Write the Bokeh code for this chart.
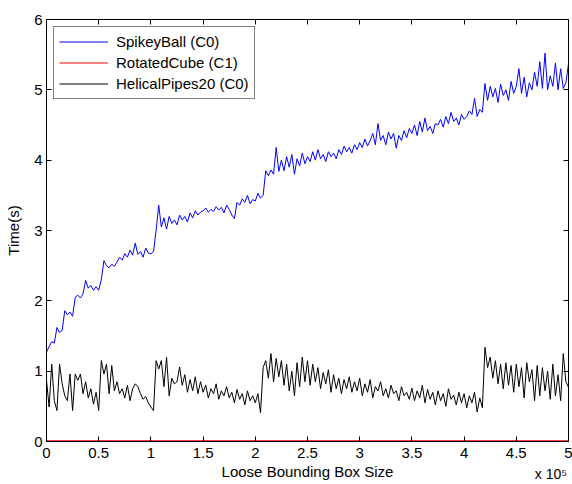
from bokeh.plotting import figure
from bokeh.models import Range1d, FixedTicker, LinearAxis, Legend
from bokeh.embed import file_html
from bokeh.resources import INLINE

FONT = "Liberation Sans"

# ---- data -------------------------------------------------------------
box_size = list(range(0, 500001, 2500))

spikey_ball = [
    1.27, 1.35, 1.42, 1.40, 1.62, 1.55, 1.58, 1.86, 1.80, 1.84,
    1.78, 2.05, 2.08, 2.04, 2.10, 2.29, 2.18, 2.22, 2.15, 2.20,
    2.15, 2.30, 2.57, 2.50, 2.47, 2.52, 2.49, 2.55, 2.62, 2.58,
    2.67, 2.62, 2.72, 2.65, 2.82, 2.66, 2.70, 2.62, 2.75, 2.68,
    2.67, 2.70, 3.00, 3.36, 3.05, 3.18, 3.02, 3.20, 3.10, 3.15,
    3.08, 3.22, 3.15, 3.20, 3.12, 3.25, 3.18, 3.28, 3.22, 3.26,
    3.28, 3.32, 3.26, 3.30, 3.27, 3.34, 3.29, 3.33, 3.25, 3.36,
    3.30, 3.22, 3.17, 3.40, 3.36, 3.45, 3.40, 3.50, 3.38, 3.44,
    3.42, 3.53, 3.46, 3.50, 3.85, 3.78, 3.86, 3.80, 4.18, 3.84,
    4.00, 3.85, 4.05, 3.90, 4.08, 3.80, 4.02, 3.92, 4.10, 3.95,
    4.05, 3.98, 4.12, 4.00, 4.15, 4.02, 4.08, 3.98, 4.12, 4.05,
    4.10, 4.02, 4.15, 4.08, 4.20, 4.12, 4.18, 4.10, 4.22, 4.15,
    4.25, 4.18, 4.30, 4.20, 4.28, 4.38, 4.22, 4.52, 4.28, 4.35,
    4.22, 4.40, 4.30, 4.38, 4.17, 4.35, 4.28, 4.42, 4.32, 4.45,
    4.38, 4.50, 4.35, 4.55, 4.40, 4.60, 4.42, 4.48, 4.38, 4.52,
    4.50, 4.58, 4.47, 4.62, 4.52, 4.68, 4.55, 4.60, 4.50, 4.65,
    4.58, 4.62, 4.70, 4.65, 4.88, 4.62, 4.72, 4.68, 5.09, 4.85,
    5.05, 4.90, 5.02, 4.82, 5.08, 4.92, 5.00, 4.85, 5.12, 4.95,
    5.05, 5.30, 4.95, 5.18, 4.90, 5.10, 5.00, 5.25, 5.05, 5.40,
    5.02, 5.52, 5.00, 5.20, 5.05, 5.38, 5.00, 5.30, 5.02, 5.10,
    5.37,
]

helical_pipes = [
    0.87, 0.49, 1.10, 0.58, 0.44, 1.10, 0.82, 0.65, 0.58, 0.96,
    0.44, 0.96, 0.87, 0.96, 0.68, 0.85, 0.62, 0.75, 0.53, 0.70,
    0.44, 1.15, 0.96, 1.10, 0.68, 1.08, 0.72, 0.85, 0.68, 0.75,
    0.62, 0.80, 0.58, 0.75, 0.82, 0.78, 0.68, 0.60, 0.64, 0.55,
    0.49, 0.44, 1.15, 1.03, 1.15, 0.78, 1.20, 0.65, 0.90, 0.82,
    0.85, 1.06, 0.80, 0.95, 0.70, 0.88, 0.72, 0.92, 0.68, 0.85,
    0.70, 0.80, 0.62, 0.75, 0.68, 0.82, 0.60, 0.72, 0.65, 0.78,
    0.62, 0.70, 0.55, 0.74, 0.60, 0.68, 0.52, 0.72, 0.58, 0.65,
    0.55, 0.68, 0.41, 1.05, 1.15, 0.90, 1.25, 0.85, 1.18, 0.92,
    1.15, 0.80, 1.10, 0.72, 1.00, 0.65, 1.12, 0.78, 1.20, 0.85,
    1.15, 0.80, 1.10, 0.85, 1.05, 0.75, 0.98, 0.82, 1.02, 0.70,
    0.95, 0.75, 0.90, 0.68, 0.88, 0.75, 0.92, 0.70, 0.85, 0.72,
    0.90, 0.65, 0.82, 0.70, 0.88, 0.62, 0.78, 0.72, 0.85, 0.65,
    0.75, 0.62, 0.80, 0.68, 0.72, 0.58, 0.78, 0.65, 0.70, 0.60,
    0.76, 0.58, 0.72, 0.62, 0.80, 0.55, 0.74, 0.60, 0.70, 0.52,
    0.72, 0.58, 0.68, 0.50, 0.75, 0.60, 0.66, 0.52, 0.70, 0.55,
    0.68, 0.48, 0.65, 0.55, 0.70, 0.42, 0.62, 0.48, 1.34, 1.05,
    1.20, 0.90, 1.15, 0.82, 1.10, 0.75, 1.12, 0.80, 1.08, 0.70,
    1.10, 0.78, 1.05, 0.62, 1.12, 0.85, 1.02, 0.58, 1.08, 0.65,
    1.05, 0.72, 1.00, 0.60, 1.10, 0.65, 0.95, 0.58, 1.25, 0.85,
    0.77,
]

cube_size = [0, 25000, 50000, 75000, 100000, 125000, 150000, 175000,
             200000, 225000, 250000, 275000, 300000, 325000, 350000,
             375000, 400000, 425000, 450000, 475000, 500000]
rotated_cube = [0.01, 0.01, 0.01, 0.01, 0.01, 0.01, 0.01, 0.01, 0.01, 0.01,
                0.01, 0.01, 0.01, 0.01, 0.01, 0.01, 0.01, 0.01, 0.01, 0.01,
                0.01]

x_ticks = [0, 50000, 100000, 150000, 200000, 250000, 300000, 350000,
           400000, 450000, 500000]
x_tick_labels = ["0", "0.5", "1", "1.5", "2", "2.5", "3", "3.5", "4", "4.5", "5"]
x_exponent = "x 10\u2075"
y_ticks = [0, 1, 2, 3, 4, 5, 6]

# ---- figure -----------------------------------------------------------
p = figure(width=572, height=484, output_backend="svg", toolbar_location=None,
           x_range=Range1d(0, 500000), y_range=Range1d(0, 6),
           min_border_left=46, min_border_right=4, min_border_top=19,
           min_border_bottom=43)
p.background_fill_color = "white"
p.border_fill_color = "white"
p.outline_line_color = "black"
p.outline_line_width = 1
p.grid.visible = False
p.xaxis.visible = False
p.yaxis.visible = False

def style_axis(ax, labels=True):
    ax.axis_line_color = "black"
    ax.major_tick_line_color = "black"
    ax.major_tick_in = 5
    ax.major_tick_out = 0
    ax.minor_tick_line_color = None
    ax.major_label_text_font = FONT
    ax.major_label_text_color = "black"
    ax.major_label_text_font_size = "15px"
    ax.axis_label_text_font = FONT
    ax.axis_label_text_font_style = "normal"
    ax.axis_label_text_color = "black"
    ax.axis_label_text_font_size = "15px"
    if not labels:
        ax.major_label_standoff = 0

xb = LinearAxis(ticker=FixedTicker(ticks=x_ticks), axis_label="Loose Bounding Box Size")
xb.major_label_overrides = {t: l for t, l in zip(x_ticks, x_tick_labels)}
style_axis(xb)
xb.major_label_standoff = 6
xb.axis_label_standoff = 2
p.add_layout(xb, "below")

# exponent of the x axis, written as the label of a tick-less axis whose
# label is anchored at the right end of the axis (trailing no-break spaces
# move the visible glyphs inside the frame's right edge)
xe = LinearAxis(ticker=FixedTicker(ticks=[]), axis_label=x_exponent + "\u00a0" * 9)
style_axis(xe)
xe.axis_line_color = None
xe.major_tick_line_color = None
xe.axis_label_text_font_size = "14px"
xe.axis_label_standoff = -17
try:
    xe.axis_label_align = "end"
except Exception:
    try:
        xe.axis_label_align = "right"
    except Exception:
        pass
p.add_layout(xe, "below")

yl = LinearAxis(ticker=FixedTicker(ticks=y_ticks), axis_label="Time(s)")
style_axis(yl)
yl.major_label_standoff = 4
yl.axis_label_standoff = 9
p.add_layout(yl, "left")

xt = LinearAxis(ticker=FixedTicker(ticks=x_ticks))
style_axis(xt, labels=False)
xt.major_label_overrides = {t: "" for t in x_ticks}
p.add_layout(xt, "above")

yr = LinearAxis(ticker=FixedTicker(ticks=y_ticks))
style_axis(yr, labels=False)
yr.major_label_overrides = {t: "" for t in y_ticks}
p.add_layout(yr, "right")

r1 = p.line(box_size, spikey_ball, line_color="#0000ff", line_width=1)
r3 = p.line(box_size, helical_pipes, line_color="black", line_width=1)
r2 = p.line(cube_size, rotated_cube, line_color="#ff0000", line_width=1.2)

legend = Legend(items=[("SpikeyBall (C0)", [r1]), ("RotatedCube (C1)", [r2]),
                       ("HelicalPipes20 (C0)", [r3])],
                location="top_left")
legend.border_line_color = "black"
legend.border_line_width = 1
legend.background_fill_color = "white"
legend.background_fill_alpha = 1
legend.label_text_font = FONT
legend.label_text_font_size = "15px"
legend.label_text_color = "black"
legend.glyph_width = 49
legend.glyph_height = 19
legend.label_height = 19
legend.spacing = 2
legend.padding = 5
legend.margin = 7
legend.label_standoff = 8
p.add_layout(legend, "center")

open("out.html", "w").write(file_html(p, INLINE))
